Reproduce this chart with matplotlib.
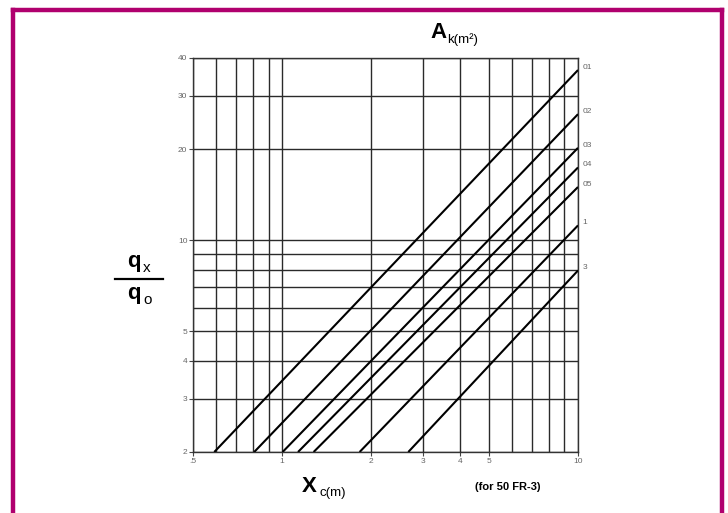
import matplotlib
matplotlib.use("Agg")
import matplotlib.pyplot as plt
from matplotlib.lines import Line2D

plt.rcParams['font.family'] = ['Liberation Sans', 'DejaVu Sans']

# Data
series_labels = ["01", "02", "03", "04", "05", "1", "3"]
x_at_y2 = [0.590, 0.805, 1.004, 1.132, 1.278, 1.828, 2.67]   # x where line meets y=2
y_at_x10 = [36.5, 26.1, 20.2, 17.4, 15.0, 11.2, 7.95]         # y where line meets x=10
x_grid = [0.5, 0.6, 0.7, 0.8, 0.9, 1, 2, 3, 4, 5, 6, 7, 8, 9, 10]
y_grid = [2, 3, 4, 5, 6, 7, 8, 9, 10, 20, 30, 40]
x_ticks = [0.5, 1, 2, 3, 4, 5, 10]
x_ticklabels = [".5", "1", "2", "3", "4", "5", "10"]
y_ticks = [2, 3, 4, 5, 10, 20, 30, 40]
y_ticklabels = ["2", "3", "4", "5", "10", "20", "30", "40"]

fig = plt.figure(figsize=(7.28, 5.13), dpi=100)
ax = fig.add_axes([193/728, 1-452/513, (578-193)/728, (452-58)/513])
ax.set_xscale('log')
ax.set_yscale('log')
ax.set_xlim(0.5, 10)
ax.set_ylim(2, 40)

for xv in x_grid:
    ax.axvline(xv, color='#2a2a2a', lw=1.0, zorder=1)
for yv in y_grid:
    ax.axhline(yv, color='#2a2a2a', lw=1.0, zorder=1)

for lab, x0, y1 in zip(series_labels, x_at_y2, y_at_x10):
    ax.plot([x0, 10], [2, y1], color='black', lw=1.5, zorder=3, solid_capstyle='butt')
    ax.text(10.35, y1 * 1.02, lab, fontsize=6, color='#666666', ha='left', va='center', clip_on=False)

ax.set_xticks(x_ticks)
ax.set_xticklabels(x_ticklabels)
ax.set_yticks(y_ticks)
ax.set_yticklabels(y_ticklabels)
ax.minorticks_off()
ax.tick_params(axis='both', labelsize=6, labelcolor='#666666', length=3, width=0.8, color='#444444', pad=1)
for s in ax.spines.values():
    s.set_color('#333333')
    s.set_linewidth(1.0)

# Axis titles
fig.text(430/728, 1-33/513, "A", fontsize=16, fontweight='bold', ha='left', va='center')
fig.text(447/728, 1-40/513, "k(m²)", fontsize=9.5, ha='left', va='center')

fig.text(302/728, 1-487/513, "X", fontsize=16, fontweight='bold', ha='left', va='center')
fig.text(319/728, 1-493/513, "c(m)", fontsize=9.5, ha='left', va='center')

fig.text(475/728, 1-487/513, "(for 50 FR-3)", fontsize=8, fontweight='bold', ha='left', va='center')

fig.text(127/728, 1-262/513, "q", fontsize=16, fontweight='bold', ha='left', va='center')
fig.text(143/728, 1-268/513, "x", fontsize=11, ha='left', va='center')
fig.add_artist(Line2D([115/728, 163/728], [1-279/513, 1-279/513], color='black', lw=1.6))
fig.text(127/728, 1-294/513, "q", fontsize=16, fontweight='bold', ha='left', va='center')
fig.text(143/728, 1-300/513, "o", fontsize=11, ha='left', va='center')

# Magenta frame
fc = '#B0006E'
lw = 3.2
fig.add_artist(Line2D([12.5/728, 12.5/728], [0, 1-9.5/513], color=fc, lw=lw))
fig.add_artist(Line2D([12.5/728, 721.5/728], [1-9.5/513, 1-9.5/513], color=fc, lw=lw))
fig.add_artist(Line2D([721.5/728, 721.5/728], [0, 1-9.5/513], color=fc, lw=lw))

fig.savefig("out.png", dpi=100)
